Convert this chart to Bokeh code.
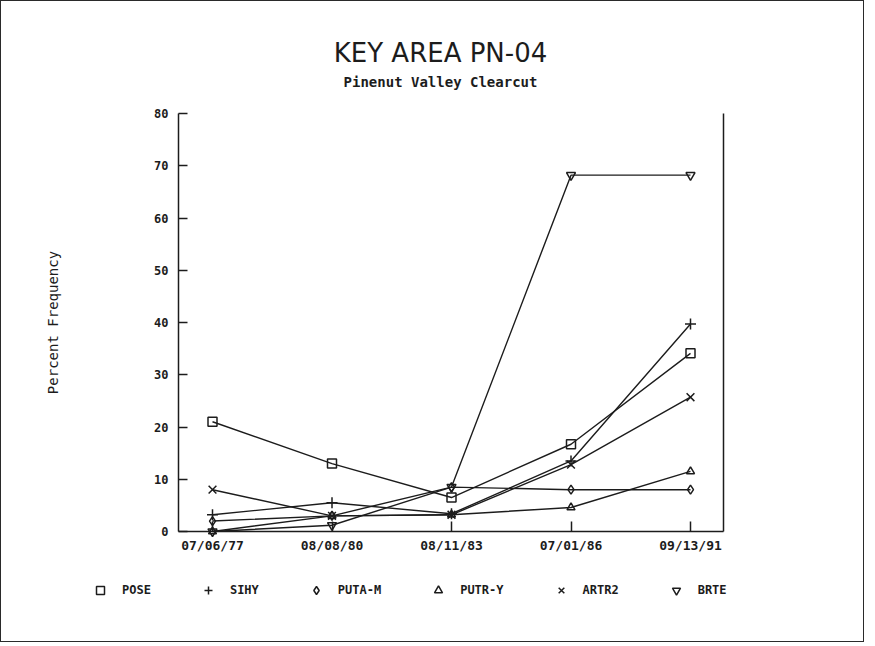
import math
from bokeh.plotting import figure
from bokeh.models import Range1d, FixedTicker, LinearAxis, Label, Legend, LegendItem
from bokeh.embed import file_html
from bokeh.resources import INLINE

# ---- data ----
dates = ["07/06/77", "08/08/80", "08/11/83", "07/01/86", "09/13/91"]
pose = [21, 13, 6.5, 16.7, 34.1]
sihy = [3.2, 5.5, 3.4, 13.5, 39.7]
puta_m = [2, 3, 8.5, 8, 8]
putr_y = [0, 3, 3.2, 4.6, 11.5]
artr2 = [8, 3, 3.2, 12.8, 25.7]
brte = [0, 1.2, 8.5, 68.2, 68.2]
y_ticks = [0, 10, 20, 30, 40, 50, 60, 70, 80]

names = ["POSE", "SIHY", "PUTA-M", "PUTR-Y", "ARTR2", "BRTE"]
values = [pose, sihy, puta_m, putr_y, artr2, brte]
markers = ["square", "cross", "diamond", "triangle", "x", "inverted_triangle"]
sizes = [9, 11, 9, 8, 11, 9]

INK = "#1c1c1c"
MONO = "DejaVu Sans Mono"

# canvas / frame geometry (pixels)
W, H = 864, 642
MB_L, MB_R, MB_T, MB_B = 40, 10, 10, 30
FW, FH = W - MB_L - MB_R, H - MB_T - MB_B
# chart box inside the frame (pixels from frame left / frame top)
BOX_L, BOX_R = 137, 682          # left axis, right border line
BOX_T, BOX_B = 102, 520          # value 80 and value 0
Y_MIN, Y_MAX = 0, 80
X_FIRST_OFF = 34                 # first category from left axis
X_STEP = 119.5                   # spacing of categories

yscale = (BOX_B - BOX_T) / (Y_MAX - Y_MIN)
y_start = Y_MIN - (FH - BOX_B) / yscale
y_end = Y_MAX + BOX_T / yscale
x_box0 = -X_FIRST_OFF / X_STEP
x_box1 = x_box0 + (BOX_R - BOX_L) / X_STEP
x_start = x_box0 - BOX_L / X_STEP
x_end = x_box1 + (FW - BOX_R) / X_STEP

p = figure(width=W, height=H,
           x_range=Range1d(x_start, x_end), y_range=Range1d(y_start, y_end),
           output_backend="svg", toolbar_location=None,
           min_border_left=MB_L, min_border_right=MB_R,
           min_border_top=MB_T, min_border_bottom=MB_B)
p.styles = {"border": "1px solid #2a2a2a"}
p.outline_line_color = None
p.grid.visible = False
p.background_fill_color = "white"
p.border_fill_color = "white"

# x axis drawn at value 0
xa = p.xaxis[0]
xa.fixed_location = 0
xa.bounds = (x_box0, x_box1)
xa.ticker = FixedTicker(ticks=list(range(len(dates))))
xa.major_label_overrides = {i: d for i, d in enumerate(dates)}
xa.minor_tick_line_color = None
xa.major_tick_in = 10
xa.major_tick_out = 0
xa.major_label_standoff = 6
xa.axis_line_width = 1.5
xa.axis_line_color = INK
xa.major_tick_line_width = 1.5
xa.major_tick_line_color = INK
xa.major_label_text_font = MONO
xa.major_label_text_font_size = "13px"
xa.major_label_text_font_style = "bold"
xa.major_label_text_color = INK

# y axis drawn at the box's left edge
ya = p.yaxis[0]
ya.fixed_location = x_box0
ya.bounds = (Y_MIN, Y_MAX)
ya.ticker = FixedTicker(ticks=y_ticks)
ya.minor_tick_line_color = None
ya.major_tick_in = 9
ya.major_tick_out = 0
ya.major_label_standoff = 10
ya.axis_line_width = 1.5
ya.axis_line_color = INK
ya.major_tick_line_width = 1.5
ya.major_tick_line_color = INK
ya.major_label_text_font = MONO
ya.major_label_text_font_size = "12px"
ya.major_label_text_font_style = "bold"
ya.major_label_text_color = INK

# right border line of the box
ra = LinearAxis(fixed_location=x_box1, bounds=(Y_MIN, Y_MAX),
                ticker=FixedTicker(ticks=[]), major_label_text_font_size="0px",
                axis_line_width=1.5, axis_line_color=INK,
                major_tick_line_color=None, minor_tick_line_color=None)
p.add_layout(ra, "right")

# titles and y-axis label (screen units, measured from frame bottom-left)
p.add_layout(Label(x=399, y=FH - 41, x_units="screen", y_units="screen",
                   text="KEY AREA PN-04", text_align="center", text_baseline="middle",
                   text_font="DejaVu Sans", text_font_size="26px", text_color=INK))
p.add_layout(Label(x=399, y=FH - 70, x_units="screen", y_units="screen",
                   text="Pinenut Valley Clearcut", text_align="center",
                   text_baseline="middle", text_font=MONO, text_font_size="14px",
                   text_font_style="bold", text_color=INK))
p.add_layout(Label(x=11, y=FH - (BOX_T + BOX_B) / 2, x_units="screen", y_units="screen",
                   angle=math.pi / 2, text="Percent Frequency", text_align="center",
                   text_baseline="middle", text_font=MONO, text_font_size="14px",
                   text_color=INK))

xs = list(range(len(dates)))
items = []
for name, vals, mk, sz in zip(names, values, markers, sizes):
    p.line(xs, vals, line_color=INK, line_width=1.4)
    r = p.scatter(xs, vals, marker=mk, size=sz, fill_color=None,
                  line_color=INK, line_width=1.5)
    items.append(LegendItem(label=name, renderers=[r]))

legend = Legend(items=items, orientation="horizontal", location=(49, 13),
                border_line_color=None, background_fill_alpha=0,
                padding=0, margin=0, spacing=47, label_standoff=12,
                glyph_width=20, glyph_height=20,
                label_text_font=MONO, label_text_font_size="12px",
                label_text_font_style="bold", label_text_color=INK)
p.add_layout(legend, "center")

open("out.html", "w").write(file_html(p, INLINE))
